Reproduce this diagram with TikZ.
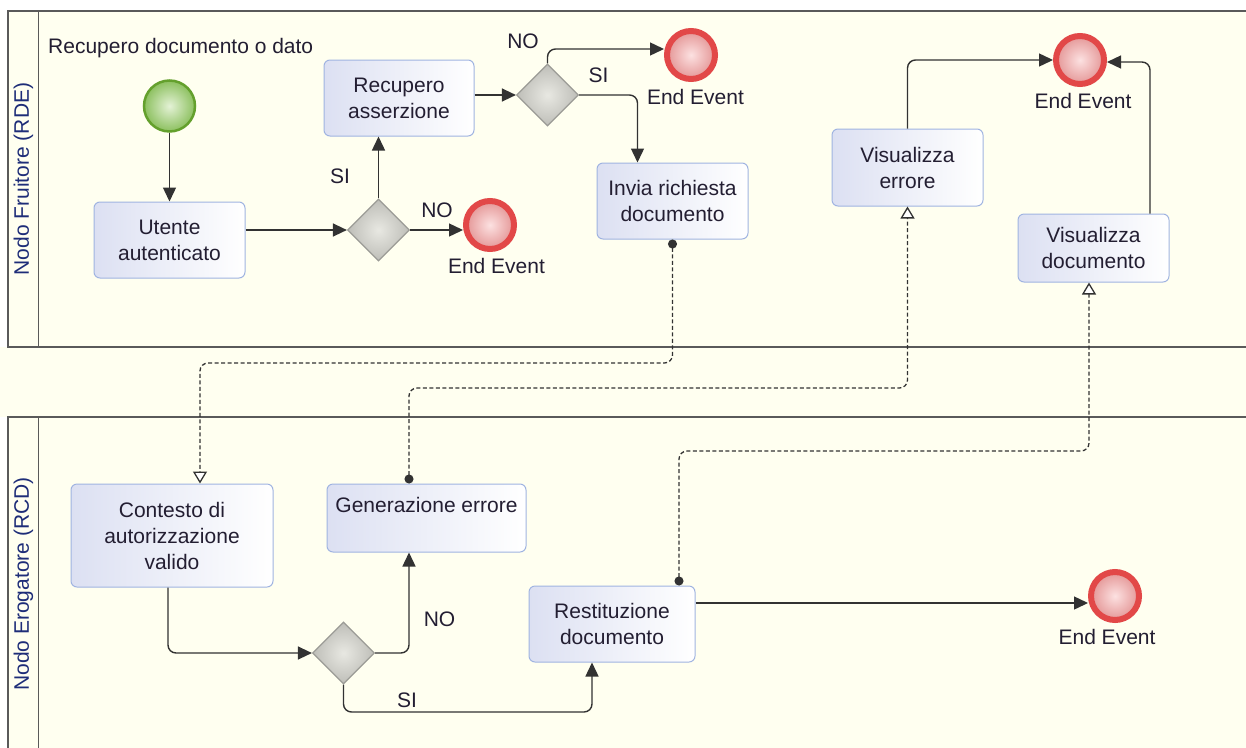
\documentclass[tikz,border=0pt]{standalone}
\usepackage{fontspec}
\setmainfont{Liberation Sans}
\usetikzlibrary{arrows.meta,shapes.geometric,positioning}

\definecolor{laneBg}{RGB}{255,255,240}
\definecolor{laneLine}{RGB}{90,90,90}
\definecolor{laneTxt}{RGB}{30,45,120}
\definecolor{txt}{RGB}{35,30,50}
\definecolor{flow}{RGB}{50,50,50}
\definecolor{taskLine}{RGB}{160,180,225}
\definecolor{taskFill}{RGB}{220,224,242}
\definecolor{gateLine}{RGB}{155,155,150}
\definecolor{gateIn}{RGB}{232,232,226}
\definecolor{gateOut}{RGB}{190,190,184}
\definecolor{endRing}{RGB}{226,72,72}
\definecolor{endIn}{RGB}{252,225,225}
\definecolor{endOut}{RGB}{228,150,150}
\definecolor{startRing}{RGB}{100,160,45}
\definecolor{startIn}{RGB}{228,242,214}
\definecolor{startOut}{RGB}{140,192,95}

\begin{document}
\begin{tikzpicture}[
  x=1pt, y=-1pt,
  font=\fontsize{21}{26}\selectfont,
  lane/.style={draw=laneLine, line width=1.6pt, fill=laneBg},
  task/.style={rectangle, rounded corners=6pt, draw=taskLine, line width=1pt,
    left color=taskFill, right color=white, align=center, text=txt, inner sep=0pt},
  gate/.style={diamond, aspect=1, draw=gateLine, line width=1.2pt,
    inner color=gateIn, outer color=gateOut, minimum width=62pt, minimum height=62pt, inner sep=0pt},
  endev/.style={circle, draw=endRing, line width=6pt, inner color=endIn, outer color=endOut,
    minimum size=48pt, inner sep=0pt},
  startev/.style={circle, draw=startRing, line width=2.5pt, inner color=startIn, outer color=startOut,
    minimum size=51pt, inner sep=0pt},
  seq/.style={draw=flow, line width=1.4pt, rounded corners=8pt, -{Triangle[length=14pt,width=13pt]}},
  msgflow/.style={draw=flow, line width=1.3pt, dash pattern=on 4pt off 2.5pt, rounded corners=8pt,
    {Circle[length=9pt]}-{Triangle[length=12pt,width=14pt,fill=white]}},
  lbl/.style={text=txt, anchor=base, inner sep=0pt}
]

\useasboundingbox (0,0) rectangle (1246,747);
\clip (0,0) rectangle (1246,747);
\fill[white] (0,0) rectangle (1246,747);

% Lanes
\fill[laneBg] (0,347) rectangle (1246,417);
\draw[lane] (8,11) rectangle (1252,347);
\draw[lane] (38.5,11) -- (38.5,347);
\draw[lane] (8,417) rectangle (1252,755);
\draw[lane] (38.5,417) -- (38.5,755);
\node[rotate=90, text=laneTxt] (laneRDE) at (23.5,179) {Nodo Fruitore (RDE)};
\node[rotate=90, text=laneTxt] (laneRCD) at (23.5,584) {Nodo Erogatore (RCD)};

\node[lbl, anchor=base west] (title) at (48,53) {Recupero documento o dato};

% Nodo Fruitore
\node[startev] (start) at (169.5,106) {};
\node[task, minimum width=151pt, minimum height=76pt] (utente) at (169.5,240) {Utente\\autenticato};
\node[gate] (gw1) at (378.5,230) {};
\node[endev] (end1) at (490,225) {};
\node[task, minimum width=150pt, minimum height=76pt] (recass) at (399,98) {Recupero\\asserzione};
\node[gate] (gw2) at (547.5,95) {};
\node[endev] (end2) at (691,55) {};
\node[task, minimum width=151pt, minimum height=76pt] (invia) at (672.5,201) {Invia richiesta\\documento};
\node[task, minimum width=151pt, minimum height=77pt] (viserr) at (907.5,167.5) {Visualizza\\errore};
\node[endev] (end3) at (1080,60) {};
\node[task, minimum width=151pt, minimum height=68pt] (visdoc) at (1093.5,248) {Visualizza\\documento};

% Nodo Erogatore
\node[task, minimum width=202pt, minimum height=103pt] (contesto) at (172,535.5) {Contesto di\\autorizzazione\\valido};
\node[task, minimum width=199pt, inner ysep=13pt, text height=15pt, text depth=27pt] (generr) at (426.5,518) {Generazione errore};
\node[gate] (gw3) at (343.5,653) {};
\node[task, minimum width=166pt, minimum height=76pt] (restit) at (612,624) {Restituzione\\documento};
\node[endev] (end4) at (1115,596) {};

% Event and gateway labels
\node[lbl] (end1lbl) at (496.5,273) {End Event};
\node[lbl] (end2lbl) at (695.5,104) {End Event};
\node[lbl] (end3lbl) at (1083,108) {End Event};
\node[lbl] (end4lbl) at (1107,644) {End Event};
\node[lbl] (gw1si) at (340,183) {SI};
\node[lbl] (gw1no) at (437,217) {NO};
\node[lbl] (gw2no) at (523,48) {NO};
\node[lbl] (gw2si) at (598.5,82) {SI};
\node[lbl] (gw3no) at (439.5,626) {NO};
\node[lbl] (gw3si) at (407,707) {SI};

% Bend levels of the flows
\coordinate (m1) at (0,363);
\coordinate (m2) at (0,388);
\coordinate (m3) at (0,451);
\coordinate (m4) at (0,712);

% Sequence flows
\draw[seq] (start) -- (utente);
\draw[seq] (gw1.west -| utente.east) -- (gw1.west);
\draw[seq] (gw1.north) -- (gw1.north |- recass.south);
\draw[seq] (gw1.east) -- (gw1.east -| end1.west);
\draw[seq] (gw2.west -| recass.east) -- (gw2.west);
\draw[seq] (gw2.north) |- ([yshift=6pt]end2.west);
\draw[seq] (gw2.east) -| ([xshift=-35pt]invia.north);
\draw[seq] (viserr.north) |- (end3.west);
\draw[seq] ([xshift=56.5pt]visdoc.north) |- ([yshift=-2pt]end3.east);
\draw[seq] ([xshift=-4pt]contesto.south) |- (gw3.west);
\draw[seq] (gw3.east) -| ([xshift=-17.5pt]generr.south);
\draw[seq] (gw3.south) -- (gw3.south |- m4) -| ([xshift=-20pt]restit.south);
\draw[seq] (restit.east |- 0,603) -- ([yshift=-7pt]end4.west);

% Message flows
\draw[msgflow] (invia.south) -- (invia.south |- m1) -| ([xshift=28pt]contesto.north);
\draw[msgflow] ([xshift=-17.5pt]generr.north) -- ([xshift=-17.5pt]generr.north |- m2) -| (viserr.south);
\draw[msgflow] ([xshift=67pt]restit.north) -- ([xshift=67pt]restit.north |- m3) -| ([xshift=-4.5pt]visdoc.south);

\end{tikzpicture}
\end{document}
